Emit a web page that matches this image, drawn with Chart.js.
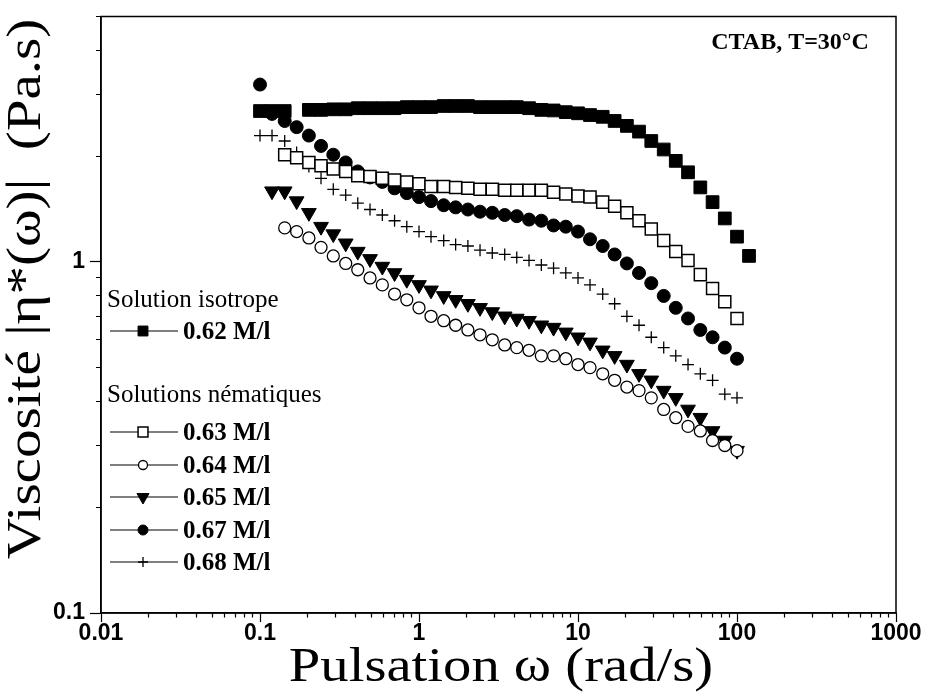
<!DOCTYPE html>
<html>
<head>
<meta charset="utf-8">
<title>CTAB viscosity</title>
<script src="https://cdn.jsdelivr.net/npm/chart.js@4.4.1/dist/chart.umd.min.js"></script>
<style>
  html, body { margin: 0; padding: 0; background: #fff; }
  #wrap { width: 929px; height: 696px; }
</style>
</head>
<body>
<div id="wrap"><canvas id="viscoChart" width="929" height="696"></canvas></div>
<script>
// pulsation omega (rad/s), shared by every series
const omega = [0.1, 0.119, 0.143, 0.170, 0.203, 0.242, 0.289, 0.346, 0.412, 0.492,
  0.588, 0.702, 0.838, 1.0, 1.19, 1.43, 1.70, 2.03, 2.42, 2.89,
  3.46, 4.12, 4.92, 5.88, 7.02, 8.38, 10.0, 11.9, 14.3, 17.0,
  20.3, 24.2, 28.9, 34.6, 41.2, 49.2, 58.8, 70.2, 83.8, 100, 119];

// |eta*(omega)| in Pa.s (null = no point)
const eta062 = [2.69, 2.69, 2.69, null, 2.71, 2.71, 2.72, 2.72, 2.74, 2.74,
  2.74, 2.74, 2.76, 2.76, 2.76, 2.78, 2.78, 2.78, 2.76, 2.76,
  2.76, 2.76, 2.74, 2.71, 2.70, 2.67, 2.65, 2.62, 2.59, 2.52,
  2.44, 2.35, 2.21, 2.09, 1.94, 1.80, 1.63, 1.48, 1.33, 1.18, 1.04];
const eta063 = [null, null, 2.02, 1.98, 1.92, 1.88, 1.84, 1.81, 1.76, 1.75,
  1.73, 1.71, 1.69, 1.67, 1.64, 1.64, 1.63, 1.62, 1.61, 1.61,
  1.60, 1.60, 1.60, 1.60, 1.58, 1.56, 1.54, 1.53, 1.48, 1.44,
  1.38, 1.31, 1.24, 1.15, 1.07, 1.01, 0.92, 0.84, 0.77, 0.69];
const eta064 = [null, null, 1.25, 1.22, 1.17, 1.10, 1.04, 0.99, 0.95, 0.90,
  0.86, 0.81, 0.78, 0.74, 0.70, 0.68, 0.66, 0.64, 0.62, 0.60,
  0.58, 0.57, 0.56, 0.54, 0.54, 0.53, 0.51, 0.50, 0.48, 0.46,
  0.44, 0.43, 0.41, 0.38, 0.36, 0.34, 0.33, 0.31, 0.30, 0.29];
const eta065 = [null, 1.59, 1.59, 1.49, 1.38, 1.26, 1.20, 1.13, 1.07, 1.02,
  0.97, 0.93, 0.89, 0.86, 0.83, 0.80, 0.78, 0.76, 0.74, 0.72,
  0.70, 0.69, 0.68, 0.66, 0.65, 0.63, 0.61, 0.59, 0.56, 0.54,
  0.51, 0.48, 0.46, 0.43, 0.41, 0.38, 0.36, 0.33, 0.31, 0.29];
const eta067 = [3.20, 2.64, 2.52, 2.42, 2.29, 2.14, 2.02, 1.92, 1.81, 1.74,
  1.69, 1.62, 1.57, 1.53, 1.49, 1.45, 1.43, 1.41, 1.39, 1.38,
  1.36, 1.35, 1.32, 1.31, 1.27, 1.26, 1.22, 1.16, 1.11, 1.05,
  0.99, 0.93, 0.87, 0.80, 0.74, 0.69, 0.64, 0.61, 0.57, 0.53];
const eta068 = [2.29, 2.29, 2.21, 2.05, 1.87, 1.73, 1.61, 1.55, 1.47, 1.41,
  1.36, 1.31, 1.26, 1.22, 1.18, 1.15, 1.12, 1.11, 1.08, 1.06,
  1.05, 1.03, 1.01, 0.98, 0.96, 0.93, 0.90, 0.86, 0.81, 0.76,
  0.70, 0.66, 0.61, 0.57, 0.54, 0.51, 0.48, 0.46, 0.42, 0.41];

const seriesLabels = ['0.62 M/l', '0.63 M/l', '0.64 M/l', '0.65 M/l', '0.67 M/l', '0.68 M/l'];
const groupTitles = ['Solution isotrope', 'Solutions nématiques'];
const xTickLabels = ['0.01', '0.1', '1', '10', '100', '1000'];
const yTickLabels = ['0.1', '1'];
const xTitle = 'Pulsation ω (rad/s)';
const yTitle = 'Viscosité |η*(ω)|  (Pa.s)';
const note = 'CTAB, T=30°C';

function toPoints(values) {
    const pts = [];
    values.forEach((v, i) => {
        if (v !== null) pts.push({ x: omega[i], y: v });
    });
    return pts;
}

// major + minor tick positions of a log axis
function logTicks(min, max) {
    const out = [];
    for (let d = -3; d <= 4; d++) {
        for (let m = 1; m <= 9; m++) {
            const v = m * Math.pow(10, d);
            if (v >= min * 0.999 && v <= max * 1.001) out.push({ value: v });
        }
    }
    return out;
}

function labelFor(labels, value) {
    const hit = labels.find(l => Math.abs(Number(l) / value - 1) < 1e-6);
    return hit === undefined ? '' : hit;
}

function isDecade(v) {
    const l = Math.log10(v);
    return Math.abs(l - Math.round(l)) < 1e-6;
}

function makeDataset(label, values, style) {
    return Object.assign({
        label: label,
        data: toPoints(values),
        showLine: false,
        pointBorderColor: '#000',
        pointBackgroundColor: '#000',
        pointBorderWidth: 1,
        pointRotation: 0
    }, style);
}

const datasets = [
    makeDataset(seriesLabels[0], eta062, { pointStyle: 'rect', pointRadius: 9, legendRadius: 7 }),
    makeDataset(seriesLabels[1], eta063, { pointStyle: 'rect', pointRadius: 8.5, pointBackgroundColor: '#fff', pointBorderWidth: 1.5, legendRadius: 7 }),
    makeDataset(seriesLabels[2], eta064, { pointStyle: 'circle', pointRadius: 6, pointBackgroundColor: '#fff', pointBorderWidth: 1.3, legendRadius: 4.5 }),
    makeDataset(seriesLabels[3], eta065, { pointStyle: 'triangle', pointRadius: 8.5, pointRotation: 180, legendRadius: 7 }),
    makeDataset(seriesLabels[4], eta067, { pointStyle: 'circle', pointRadius: 6.5, legendRadius: 5 }),
    makeDataset(seriesLabels[5], eta068, { pointStyle: 'cross', pointRadius: 6, pointBorderWidth: 1.3, legendRadius: 5 })
];

// stretched serif text, as in the scanned figure
function drawStretched(ctx, text, x, y, angle, stretch) {
    ctx.save();
    ctx.translate(x, y);
    ctx.rotate(angle);
    ctx.scale(stretch, 1);
    ctx.fillText(text, 0, 0);
    ctx.restore();
}

// box around the plot, axis titles, in-plot legend and the CTAB note
const decorPlugin = {
    id: 'decor',
    beforeDatasetsDraw(chart) {
        const { ctx, chartArea } = chart;
        ctx.save();
        ctx.strokeStyle = '#000';
        ctx.lineWidth = 1.5;
        ctx.strokeRect(chartArea.left, chartArea.top, chartArea.right - chartArea.left, chartArea.bottom - chartArea.top);
        ctx.restore();
    },
    afterDatasetsDraw(chart) {
        const ctx = chart.ctx;
        const rowsY = [331, 432, 465, 497, 530, 562];
        ctx.save();
        ctx.fillStyle = '#000';
        ctx.textBaseline = 'middle';
        ctx.textAlign = 'left';
        ctx.font = '25px "Liberation Serif"';
        ctx.fillText(groupTitles[0], 107, 300);
        ctx.fillText(groupTitles[1], 107, 395);

        chart.data.datasets.forEach((d, i) => {
            const y = rowsY[i];
            ctx.strokeStyle = '#000';
            ctx.lineWidth = 1.2;
            ctx.beginPath();
            ctx.moveTo(110, y);
            ctx.lineTo(178, y);
            ctx.stroke();
            ctx.fillStyle = d.pointBackgroundColor;
            ctx.strokeStyle = d.pointBorderColor;
            ctx.lineWidth = d.pointBorderWidth;
            Chart.helpers.drawPoint(ctx, {
                pointStyle: d.pointStyle,
                radius: d.legendRadius,
                rotation: d.pointRotation,
                borderWidth: d.pointBorderWidth
            }, 143, y);
            ctx.fillStyle = '#000';
            ctx.font = 'bold 25px "Liberation Serif"';
            ctx.fillText(d.label, 183, y + 2);
        });

        ctx.font = 'bold 24px "Liberation Serif"';
        ctx.textAlign = 'center';
        ctx.fillText(note, 790, 43);

        // axis titles
        ctx.font = '48px "Liberation Serif"';
        drawStretched(ctx, xTitle, 501, 668, 0, 1.18);
        drawStretched(ctx, yTitle, 27, 289, -Math.PI / 2, 1.19);
        ctx.restore();
    }
};

const ctx = document.getElementById('viscoChart').getContext('2d');
new Chart(ctx, {
    type: 'scatter',
    data: { datasets: datasets },
    options: {
        responsive: false,
        animation: false,
        events: [],
        layout: { padding: { top: 11, right: 33, left: 0, bottom: 0 } },
        plugins: {
            legend: { display: false },
            tooltip: { enabled: false }
        },
        scales: {
            x: {
                type: 'logarithmic',
                min: 0.01,
                max: 1000,
                afterBuildTicks: s => { s.ticks = logTicks(0.01, 1000); },
                afterFit: s => { s.height = 83; },
                ticks: {
                    autoSkip: false,
                    maxRotation: 0,
                    color: '#000',
                    padding: 0,
                    font: { family: 'Liberation Sans', weight: 'bold', size: 23, lineHeight: 1 },
                    callback: v => labelFor(xTickLabels, v)
                },
                grid: {
                    drawOnChartArea: false,
                    drawTicks: true,
                    tickLength: 9,
                    tickColor: '#000',
                    tickWidth: 1.2,
                    tickBorderDash: c => (c.tick && !isDecade(c.tick.value)) ? [4, 100] : []
                },
                border: { display: true, color: '#000', width: 1.5 },
                title: { display: false }
            },
            y: {
                type: 'logarithmic',
                min: 0.1,
                max: 5,
                afterBuildTicks: s => { s.ticks = logTicks(0.1, 5); },
                afterFit: s => { s.width = 101; },
                ticks: {
                    autoSkip: false,
                    color: '#000',
                    padding: 5,
                    font: { family: 'Liberation Sans', weight: 'bold', size: 23, lineHeight: 1 },
                    callback: v => labelFor(yTickLabels, v)
                },
                grid: {
                    drawOnChartArea: false,
                    drawTicks: true,
                    tickLength: 11,
                    tickColor: '#000',
                    tickWidth: 1.2,
                    tickBorderDash: c => (c.tick && !isDecade(c.tick.value)) ? [0, 6, 5, 100] : []
                },
                border: { display: true, color: '#000', width: 1.5 },
                title: { display: false }
            }
        }
    },
    plugins: [decorPlugin]
});
</script>
</body>
</html>
